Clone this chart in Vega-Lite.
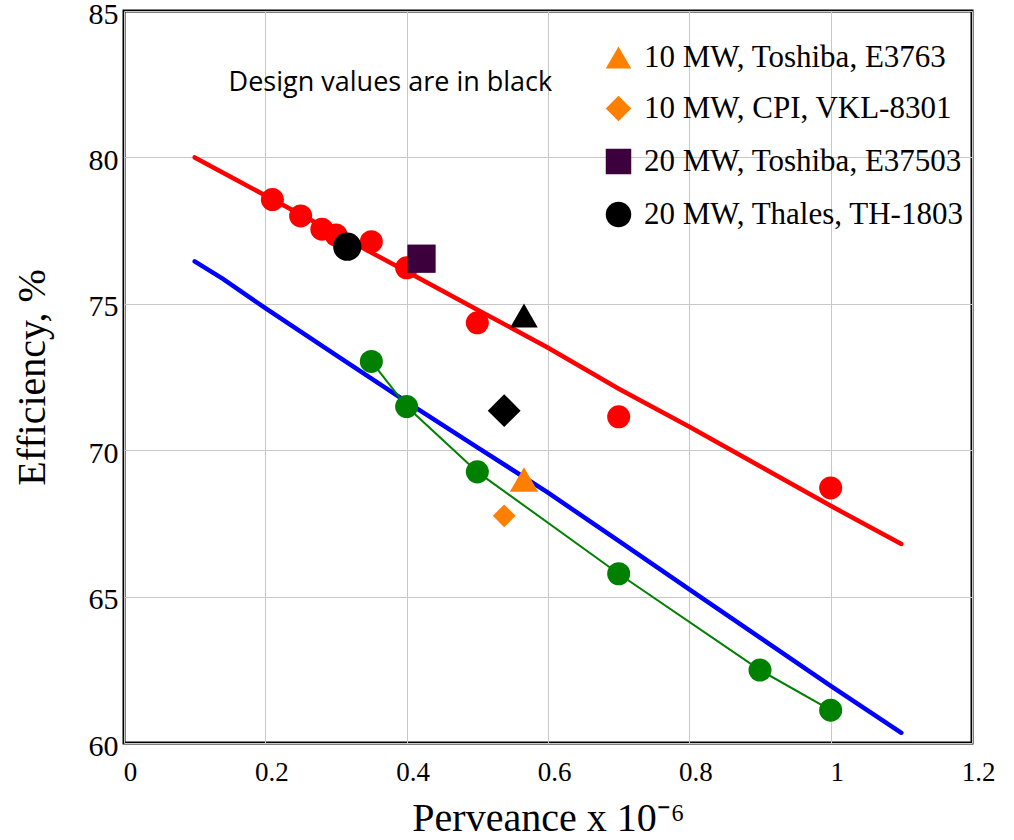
{
  "$schema": "https://vega.github.io/schema/vega-lite/v6.json",
  "autosize": {"type": "none"},
  "width": 848,
  "height": 732,
  "padding": {"left": 124, "top": 11, "right": 42, "bottom": 97},
  "background": "white",
  "config": {
    "view": {"stroke": "black", "strokeWidth": 3},
    "font": "Liberation Serif"
  },
  "datasets": {
    "curves": [
      {"series": "20 MW curve", "x": 0.1, "y": 80.0},
      {"series": "20 MW curve", "x": 0.15, "y": 79.35},
      {"series": "20 MW curve", "x": 0.2, "y": 78.7},
      {"series": "20 MW curve", "x": 0.3, "y": 77.4},
      {"series": "20 MW curve", "x": 0.4, "y": 76.1},
      {"series": "20 MW curve", "x": 0.5, "y": 74.8},
      {"series": "20 MW curve", "x": 0.6, "y": 73.5},
      {"series": "20 MW curve", "x": 0.7, "y": 72.1},
      {"series": "20 MW curve", "x": 0.8, "y": 70.8},
      {"series": "20 MW curve", "x": 0.9, "y": 69.45},
      {"series": "20 MW curve", "x": 1.0, "y": 68.1},
      {"series": "20 MW curve", "x": 1.1, "y": 66.8},
      {"series": "10 MW curve", "x": 0.1, "y": 76.45},
      {"series": "10 MW curve", "x": 0.14, "y": 75.85},
      {"series": "10 MW curve", "x": 0.2, "y": 74.85},
      {"series": "10 MW curve", "x": 0.3, "y": 73.25},
      {"series": "10 MW curve", "x": 0.4, "y": 71.65},
      {"series": "10 MW curve", "x": 0.5, "y": 70.1},
      {"series": "10 MW curve", "x": 0.6, "y": 68.55},
      {"series": "10 MW curve", "x": 0.7, "y": 66.9},
      {"series": "10 MW curve", "x": 0.8, "y": 65.25},
      {"series": "10 MW curve", "x": 0.9, "y": 63.6},
      {"series": "10 MW curve", "x": 1.0, "y": 61.95},
      {"series": "10 MW curve", "x": 1.1, "y": 60.35}
    ],
    "points20": [
      {"x": 0.21, "y": 78.56},
      {"x": 0.25, "y": 78.0},
      {"x": 0.28, "y": 77.55},
      {"x": 0.30, "y": 77.35},
      {"x": 0.35, "y": 77.12},
      {"x": 0.40, "y": 76.23},
      {"x": 0.50, "y": 74.35},
      {"x": 0.70, "y": 71.14},
      {"x": 1.00, "y": 68.71}
    ],
    "points10": [
      {"x": 0.35, "y": 73.03},
      {"x": 0.40, "y": 71.49},
      {"x": 0.50, "y": 69.26},
      {"x": 0.70, "y": 65.78},
      {"x": 0.90, "y": 62.49},
      {"x": 1.00, "y": 61.12}
    ],
    "tubes": [
      {"model": "10 MW, Toshiba, E3763", "type": "Design", "x": 0.566, "y": 74.6},
      {"model": "10 MW, CPI, VKL-8301", "type": "Design", "x": 0.538, "y": 71.35},
      {"model": "20 MW, Toshiba, E37503", "type": "Design", "x": 0.421, "y": 76.54},
      {"model": "20 MW, Thales, TH-1803", "type": "Design", "x": 0.316, "y": 76.95},
      {"model": "10 MW, Toshiba, E3763", "type": "Measured", "x": 0.566, "y": 69.0},
      {"model": "10 MW, CPI, VKL-8301", "type": "Measured", "x": 0.538, "y": 67.76}
    ],
    "note": [
      {"x": 0.377, "y": 82.54, "label": "Design values are in black"}
    ]
  },
  "encoding": {
    "x": {
      "field": "x", "type": "quantitative",
      "scale": {"domain": [0, 1.2], "nice": false, "zero": false},
      "axis": {
        "title": "Perveance x 10⁻⁶",
        "values": [0, 0.2, 0.4, 0.6, 0.8, 1, 1.2],
        "format": "~g",
        "domain": false, "ticks": false, "labelFlush": false,
        "grid": true, "gridColor": "#c8c8c8", "gridWidth": 1,
        "labelFont": "Liberation Serif", "labelFontSize": 27, "labelColor": "black",
        "labelPadding": 16, "labelOffset": 6,
        "titleFont": "Liberation Serif", "titleFontSize": 40, "titleFontWeight": "normal",
        "titleColor": "black", "titlePadding": 13
      }
    },
    "y": {
      "field": "y", "type": "quantitative",
      "scale": {"domain": [60, 85], "nice": false, "zero": false},
      "axis": {
        "title": "Efficiency, %",
        "values": [60, 65, 70, 75, 80, 85],
        "domain": false, "ticks": false, "labelFlush": false,
        "grid": true, "gridColor": "#c8c8c8", "gridWidth": 1,
        "labelFont": "Liberation Serif", "labelFontSize": 30, "labelColor": "black",
        "labelPadding": 6, "labelOffset": 3,
        "titleFont": "Liberation Serif", "titleFontSize": 40, "titleFontWeight": "normal",
        "titleColor": "black", "titlePadding": 36
      }
    }
  },
  "layer": [
    {
      "data": {"name": "curves"},
      "mark": {"type": "line", "strokeWidth": 4.5, "strokeCap": "round"},
      "encoding": {
        "color": {
          "field": "series", "type": "nominal",
          "scale": {"domain": ["20 MW curve", "10 MW curve"], "range": ["#ff0000", "#0000ff"]},
          "legend": null
        }
      }
    },
    {
      "data": {"name": "points20"},
      "mark": {"type": "circle", "size": 530, "color": "#ff0000", "opacity": 1}
    },
    {
      "data": {"name": "points10"},
      "mark": {"type": "line", "color": "#008000", "strokeWidth": 2},
      "encoding": {}
    },
    {
      "data": {"name": "points10"},
      "mark": {"type": "circle", "size": 530, "color": "#008000", "opacity": 1}
    },
    {
      "data": {"name": "tubes"},
      "transform": [{"filter": "datum.type == 'Design' && datum.model == '10 MW, Toshiba, E3763'"}],
      "mark": {"type": "point", "shape": "triangle-up", "filled": true, "opacity": 1, "color": "black", "size": 760}
    },
    {
      "data": {"name": "tubes"},
      "transform": [{"filter": "datum.type == 'Design' && datum.model == '10 MW, CPI, VKL-8301'"}],
      "mark": {"type": "point", "shape": "diamond", "filled": true, "opacity": 1, "color": "black", "size": 1080}
    },
    {
      "data": {"name": "tubes"},
      "transform": [{"filter": "datum.type == 'Measured' && datum.model == '10 MW, CPI, VKL-8301'"}],
      "mark": {"type": "point", "shape": "diamond", "filled": true, "opacity": 1, "color": "#ff8000", "size": 520}
    },
    {
      "data": {"name": "tubes"},
      "transform": [{"filter": "(datum.type == 'Measured' && datum.model == '10 MW, Toshiba, E3763') || indexof(datum.model, '20 MW') == 0"}],
      "mark": {"type": "point", "filled": true, "opacity": 1, "size": 800},
      "encoding": {
        "shape": {
          "field": "model", "type": "nominal",
          "scale": {
            "domain": ["10 MW, Toshiba, E3763", "10 MW, CPI, VKL-8301", "20 MW, Toshiba, E37503", "20 MW, Thales, TH-1803"],
            "range": ["triangle-up", "diamond", "square", "circle"]
          },
          "legend": {
            "title": null,
            "orient": "none",
            "legendX": 479,
            "legendY": 31,
            "padding": 0,
            "rowPadding": 16,
            "symbolSize": 650,
            "symbolStrokeColor": "black",
            "symbolStrokeWidth": 2.5,
            "labelFont": "Liberation Serif",
            "labelFontSize": 31,
            "labelColor": "black",
            "labelOffset": 10,
            "labelLimit": 400
          }
        },
        "fill": {
          "field": "model", "type": "nominal",
          "scale": {
            "domain": ["10 MW, Toshiba, E3763", "10 MW, CPI, VKL-8301", "20 MW, Toshiba, E37503", "20 MW, Thales, TH-1803"],
            "range": ["#ff8000", "#ff8000", "#3c003c", "#000000"]
          },
          "legend": {
            "title": null,
            "orient": "none",
            "legendX": 479,
            "legendY": 31,
            "padding": 0,
            "rowPadding": 16,
            "symbolSize": 650,
            "symbolStrokeColor": "black",
            "symbolStrokeWidth": 2.5,
            "labelFont": "Liberation Serif",
            "labelFontSize": 31,
            "labelColor": "black",
            "labelOffset": 10,
            "labelLimit": 400
          }
        }
      }
    },
    {
      "data": {"name": "note"},
      "mark": {"type": "text", "font": "Open Sans", "fontSize": 27, "color": "black", "align": "center", "baseline": "middle"},
      "encoding": {"text": {"field": "label"}}
    }
  ]
}
